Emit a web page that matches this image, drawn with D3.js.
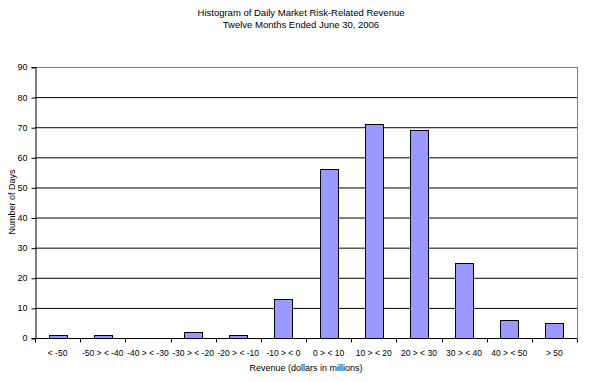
<!DOCTYPE html>
<html><head><meta charset="utf-8">
<script src="https://cdn.jsdelivr.net/npm/d3@7"></script>
<style>body{margin:0;background:#fff}svg{display:block}text{font-family:"Liberation Sans",Arial,sans-serif}</style>
</head><body>
<script>
const categories = ["< -50","-50 > < -40","-40 > < -30","-30 > < -20","-20 > < -10","-10 > < 0","0 > < 10","10 > < 20","20 > < 30","30 > < 40","40 > < 50","> 50"];
const days = [1,1,0,2,1,13,56,71,69,25,6,5];
const yTicks = [0,10,20,30,40,50,60,70,80,90];

const W=595,H=382;
const m={l:35,r:18,t:67,b:44};
const svg=d3.select("body").append("svg").attr("width",W).attr("height",H);
const x=d3.scaleBand().domain(categories).range([m.l,W-m.r]).paddingInner(0.6).paddingOuter(0.3);
const y=d3.scaleLinear().domain([0,90]).range([H-m.b,m.t]);

// gridlines
svg.append("g").selectAll("line").data(yTicks.filter(d=>d>0)).join("line")
 .attr("x1",m.l).attr("x2",W-m.r).attr("y1",d=>y(d)+0.5).attr("y2",d=>y(d)+0.5)
 .attr("stroke",d=>d===90?"#808080":"#000").attr("stroke-width",1);
// right border
svg.append("line").attr("x1",W-m.r+0.5).attr("x2",W-m.r+0.5).attr("y1",m.t).attr("y2",H-m.b).attr("stroke","#808080");

// bars
svg.append("g").selectAll("rect").data(days).join("rect")
 .attr("x",(d,i)=>Math.round(x(categories[i]))+0.5).attr("width",Math.round(x.bandwidth()))
 .attr("y",d=>Math.round(y(d))+0.5).attr("height",d=>Math.max(0,Math.round(y(0))-Math.round(y(d))))
 .attr("fill",d=>d>0?"#9999FF":"none").attr("stroke",d=>d>0?"#000":"none").attr("stroke-width",1);

// y axis
const ya=svg.append("g").attr("transform",`translate(${m.l+0.5},0)`)
 .call(d3.axisLeft(y).tickValues(yTicks).tickSize(4).tickPadding(4));
ya.select(".domain").attr("stroke","#000");
ya.selectAll("text").attr("font-size",9).attr("font-family","Liberation Sans, Arial, sans-serif").attr("fill","#000");
ya.selectAll("line").attr("transform","translate(0,0.5)");

// x axis with boundary ticks
const xa=svg.append("g").attr("transform",`translate(0,${Math.round(y(0))+0.5})`);
xa.append("line").attr("x1",m.l).attr("x2",W-m.r).attr("stroke","#000");
const step=x.step();
const bounds=d3.range(categories.length+1).map(i=>m.l+i*(W-m.r-m.l)/categories.length);
xa.selectAll("line.t").data(bounds).join("line").attr("class","t")
 .attr("x1",d=>Math.round(d)+0.5).attr("x2",d=>Math.round(d)+0.5).attr("y1",0).attr("y2",4).attr("stroke","#000");
xa.selectAll("text").data(categories).join("text")
 .attr("x",d=>x(d)+x.bandwidth()/2).attr("y",17).attr("text-anchor","middle")
 .attr("font-size",8.5).text(d=>d);

// titles
svg.append("text").attr("x",301).attr("y",16).attr("text-anchor","middle").attr("font-size",9.5).text("Histogram of Daily Market Risk-Related Revenue");
svg.append("text").attr("x",301).attr("y",28).attr("text-anchor","middle").attr("font-size",9.5).text("Twelve Months Ended June 30, 2006");
svg.append("text").attr("x",306).attr("y",371).attr("text-anchor","middle").attr("font-size",9).text("Revenue (dollars in millions)");
svg.append("text").attr("transform","translate(15,202) rotate(-90)").attr("text-anchor","middle").attr("font-size",9).text("Number of Days");
</script>
</body></html>
